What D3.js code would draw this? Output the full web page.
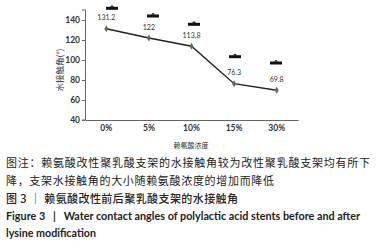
<!DOCTYPE html>
<html><head><meta charset="utf-8">
<script src="https://cdn.jsdelivr.net/npm/d3@7"></script>
<style>html,body{margin:0;padding:0;background:#fff;}svg{display:block;}</style>
</head><body>
<svg id="c" width="377" height="246"></svg>
<script>
const categories = ["0%", "5%", "10%", "15%", "30%"];
const angleValues = [131.2, 122, 113.8, 76.3, 69.8];
const angleLabels = ["131.2", "122", "113.8", "76.3", "69.8"];
const markerValues = [151.7, 144, 135.7, 103.3, 97];
const yTicks = [40, 60, 80, 100, 120, 140];
const yTitle = "水接触角(°)";
const xTitle = "赖氨酸浓度";
const captionLines = [
  "图注：赖氨酸改性聚乳酸支架的水接触角较为改性聚乳酸支架均有所下",
  "降，支架水接触角的大小随赖氨酸浓度的增加而降低",
  "图 3 ｜ 赖氨酸改性前后聚乳酸支架的水接触角"
];
const captionEn = [
  "Figure 3\u00a0\u00a0\u00a0|\u00a0\u00a0\u00a0Water contact angles of polylactic acid stents before and after",
  "lysine modification"
];

const svg = d3.select("#c");
const cjk = "'Noto Sans CJK SC', 'Noto Sans', sans-serif";
const lat = "Lato, 'Open Sans', 'Liberation Sans', sans-serif";

const x = d3.scaleBand().domain(categories).range([85, 298]).padding(0);
const xm = d3.scalePoint().domain(categories).range([112, 276]);
const y = d3.scaleLinear().domain([40, 150]).range([120, 10]);

// y axis
const ya = svg.append("g").attr("transform", "translate(85,0)")
  .call(d3.axisLeft(y).tickValues(yTicks).tickSize(3).tickPadding(2).tickFormat(d3.format("d")));
ya.select(".domain").attr("stroke", "#666").attr("d", `M-3,${y(150)}H0.5V${y(40)}H-3`);
ya.selectAll(".tick line").attr("stroke", "#666");
ya.selectAll(".tick text").attr("fill", "#333").style("font", `bold 8.5px ${lat}`);

// x axis
const xa = svg.append("g").attr("transform", "translate(0,120)")
  .call(d3.axisBottom(x).tickSize(0).tickPadding(5));
xa.select(".domain").attr("stroke", "#666");
xa.selectAll(".tick text").attr("fill", "#333").style("font", `bold 8.5px ${lat}`);

// titles
svg.append("text").attr("transform", `translate(63,70) rotate(-90)`)
  .attr("text-anchor", "middle").attr("fill", "#333")
  .style("font", `8.5px ${cjk}`).text(yTitle);
svg.append("text").attr("x", 191).attr("y", 148).attr("text-anchor", "middle")
  .attr("fill", "#333").style("font", `7px ${cjk}`).text(xTitle);

// line
const line = d3.line().x((d, i) => x(categories[i]) + x.bandwidth() / 2).y(d => y(d));
svg.append("path").datum(angleValues).attr("d", line)
  .attr("fill", "none").attr("stroke", "#222").attr("stroke-width", 1.4);

// markers (diamonds)
svg.selectAll(".pt").data(angleValues).enter().append("path")
  .attr("transform", (d, i) => `translate(${x(categories[i]) + x.bandwidth() / 2},${y(d)})`)
  .attr("d", d3.symbol().type(d3.symbolDiamond).size(14))
  .attr("fill", "#666");

// data labels
svg.selectAll(".lbl").data(angleValues).enter().append("text")
  .attr("x", (d, i) => x(categories[i]) + x.bandwidth() / 2)
  .attr("y", d => y(d) - 8.5)
  .attr("text-anchor", "middle").attr("fill", "#333")
  .style("font", `7px ${lat}`).text((d, i) => angleLabels[i]);

// significance-like markers
const mk = svg.selectAll(".mk").data(markerValues).enter().append("g")
  .attr("transform", (d, i) => `translate(${xm(categories[i])},${y(d)})`);
mk.append("rect").attr("x", -6).attr("y", -1.5).attr("width", 12).attr("height", 3).attr("fill", "#111");
mk.append("path").attr("d", "M-2,-1.5 Q0,-4.5 2,-1.5 Z").attr("fill", "#111");

// caption
const cap = svg.append("g").attr("fill", "#222");
cap.append("text").attr("x", 6).attr("y", 167).attr("textLength", 364).attr("lengthAdjust", "spacing")
  .style("font", `11px ${cjk}`).text(captionLines[0]);
cap.append("text").attr("x", 6).attr("y", 184.5).attr("textLength", 268).attr("lengthAdjust", "spacing")
  .style("font", `11px ${cjk}`).text(captionLines[1]);
cap.append("text").attr("x", 6).attr("y", 203).attr("textLength", 232).attr("lengthAdjust", "spacing")
  .style("font", `500 11px ${cjk}`).text(captionLines[2]);
cap.append("text").attr("x", 6).attr("y", 219.5).attr("textLength", 354).attr("lengthAdjust", "spacingAndGlyphs")
  .style("font", `bold 10.5px ${lat}`).text(captionEn[0]);
cap.append("text").attr("x", 6).attr("y", 236.5).attr("textLength", 90).attr("lengthAdjust", "spacingAndGlyphs")
  .style("font", `bold 10.5px ${lat}`).text(captionEn[1]);
</script>
</body></html>
